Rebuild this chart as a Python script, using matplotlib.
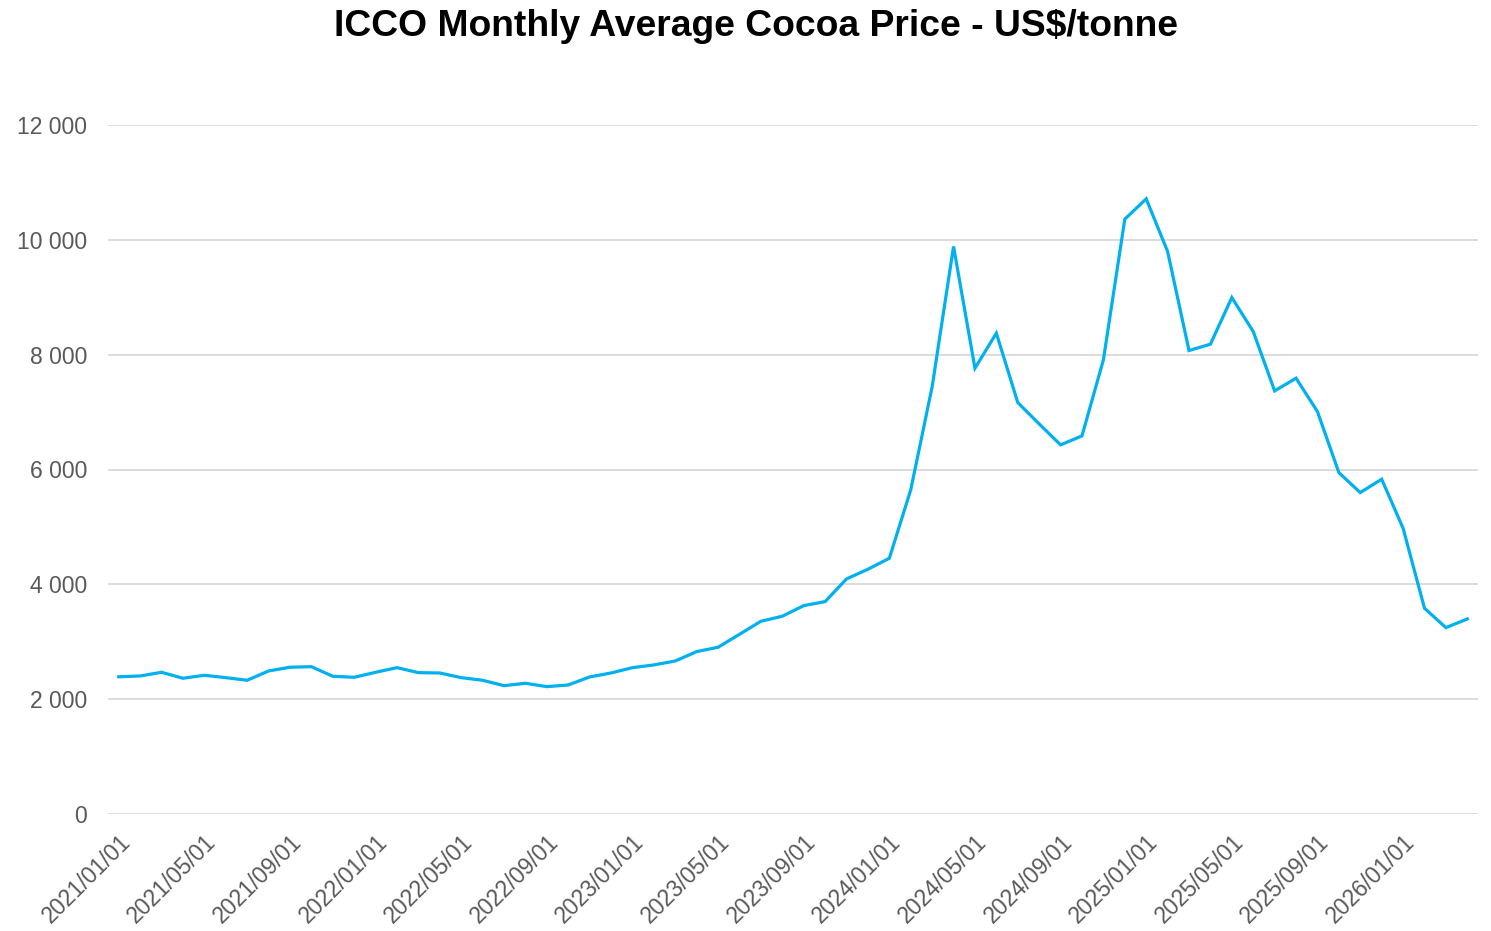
import matplotlib
matplotlib.use("Agg")
import matplotlib.pyplot as plt
import matplotlib.transforms as mtransforms
from matplotlib.ticker import FuncFormatter, FixedLocator

plt.rcParams['font.family'] = ['Liberation Sans', 'DejaVu Sans']

months = [f"{y}/{m:02d}/01" for y in range(2021, 2027) for m in range(1, 13)][:64]

prices = [2390, 2404, 2468, 2364, 2416, 2375, 2329, 2491, 2556, 2566,
          2399, 2381, 2468, 2549, 2462, 2456, 2375, 2329, 2235, 2277,
          2218, 2247, 2387, 2456, 2549, 2596, 2665, 2828, 2904, 3130,
          3357, 3444, 3629, 3699, 4094, 4263, 4454, 5645, 7440, 9884,
          7764, 8374, 7166, 6794, 6429, 6585, 7909, 10360, 10714, 9797,
          8072, 8183, 8995, 8403, 7369, 7590, 7009, 5946, 5598, 5831,
          4977, 3584, 3246, 3397]

y_ticks = [0, 2000, 4000, 6000, 8000, 10000, 12000]

fig = plt.figure(figsize=(14.91, 9.31), dpi=100)
ax = fig.add_axes([108/1491, 1-814/931, (1478-108)/1491, (814-125)/931])

x = list(range(len(prices)))
ax.plot(x, prices, color='#00B0F0', linewidth=2.3, solid_joinstyle='miter')

ax.set_xlim(-0.5, len(prices) - 0.5)
ax.set_ylim(0, 12000)
ax.yaxis.set_major_locator(FixedLocator(y_ticks))
ax.yaxis.set_major_formatter(FuncFormatter(lambda v, p: f"{int(v):,}".replace(",", " ")))
ax.grid(axis='y', color='#D9D9D9', linewidth=1.3)
ax.set_axisbelow(True)

tick_idx = list(range(0, len(prices), 4))
ax.set_xticks(tick_idx)
ax.set_xticklabels([months[i] for i in tick_idx], rotation=45, ha='right',
                   rotation_mode='anchor', fontsize=16.5, color='#595959')
offset = mtransforms.ScaledTranslation(-7/100, 0, fig.dpi_scale_trans)
for lbl in ax.get_xticklabels():
    lbl.set_transform(lbl.get_transform() + offset)
for lbl in ax.get_yticklabels():
    lbl.set_fontsize(16.5)
    lbl.set_color('#595959')
ax.tick_params(axis='both', length=0)
ax.tick_params(axis='y', pad=15)
ax.tick_params(axis='x', pad=12)
for s in ax.spines.values():
    s.set_visible(False)

fig.suptitle("ICCO Monthly Average Cocoa Price - US$/tonne", fontsize=26.8,
             fontweight='bold', x=0.5 + 10/1491, y=1-27/931, va='center')

fig.savefig("out.png", dpi=100)
